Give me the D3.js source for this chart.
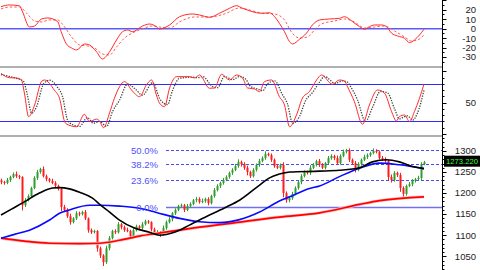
<!DOCTYPE html>
<html><head><meta charset="utf-8">
<script src="https://cdn.jsdelivr.net/npm/d3@7"></script>
<style>html,body{margin:0;padding:0;background:#fff;overflow:hidden}svg{display:block}</style>
</head><body>
<svg id="c" width="480" height="270"></svg>
<script>
// ---------- DATA ----------
const firstOpen = 1230;
const closes = [1226,1224,1231,1238,1245,1240,1238,1171,1183,1193,
1212,1236,1250,1257,1240,1233,1229,1224,1217,1210,
1167,1160,1145,1131,1140,1152,1150,1155,1140,1112,
1107,1110,1069,1052,1036,1069,1093,1110,1107,1126,
1119,1112,1110,1098,1112,1121,1117,1126,1133,1131,
1114,1105,1107,1102,1117,1131,1138,1152,1160,1169,
1171,1160,1169,1174,1183,1186,1179,1181,1186,1176,
1193,1207,1217,1224,1231,1238,1248,1255,1264,1274,
1269,1260,1250,1240,1255,1267,1276,1283,1293,1290,
1279,1264,1260,1267,1200,1183,1188,1198,1212,1226,
1240,1250,1248,1260,1267,1276,1267,1260,1271,1283,
1288,1283,1271,1288,1298,1302,1279,1271,1255,1269,
1279,1286,1290,1295,1300,1298,1283,1281,1276,1238,
1231,1248,1243,1212,1198,1217,1221,1229,1233,1236,
1269,1273.22];
const wickUp = [4,3,5,3,4,6,3,2,5,4, 3,4,5,3,6,4,3,5,4,3, 2,5,4,6,3,5,4,3,5,2, 4,3,2,4,3,6,5,3,4,5,
3,4,6,3,5,4,3,5,4,3, 2,4,5,3,6,4,5,3,4,3, 4,3,5,4,3,5,4,6,3,4, 3,5,4,3,5,4,3,4,5,6,
3,4,5,3,4,3,5,4,6,3, 4,3,5,3,6,4,3,5,4,3, 5,4,3,6,4,3,5,4,3,5, 4,3,6,4,5,3,4,3,5,4,
3,5,4,3,6,4,3,5,4,3, 6,4,3,5,4,3,5,4,3,5, 4,3];
const wickDn = [5,4,3,5,3,4,5,12,4,3, 4,3,5,4,3,5,4,3,5,4, 10,5,4,6,3,4,5,3,4,6, 4,3,8,6,9,4,5,3,4,3,
5,4,3,6,4,3,5,4,3,4, 5,3,4,6,3,4,3,5,4,3, 4,5,3,4,3,5,4,3,4,5, 3,4,3,5,4,3,4,5,3,4,
6,5,8,4,3,4,5,3,4,3, 5,4,3,4,10,6,5,4,3,4, 5,3,4,5,3,4,5,3,4,3, 4,5,3,4,3,4,5,4,6,3,
4,3,5,4,3,4,3,5,4,8, 6,4,5,9,7,4,3,5,4,3, 5,3];

// moving averages: [bar index, price]
const maBlack = [[0,1148],[3.5,1162],[7.8,1179],[12.8,1200],[17.2,1212],[19.5,1213],[22.8,1210],[26.2,1202],[30.5,1188],[32.8,1174],[36.2,1155],[39.5,1136],[44.5,1117],[49.5,1107],[52.8,1100],[57.8,1107],[62.8,1124],[69.5,1148],[75.2,1167],[79.5,1183],[86.2,1219],[89.5,1236],[92.8,1245],[96.2,1250],[106.2,1252],[112.8,1254],[119.5,1260],[123.8,1274],[128.5,1279],[132.8,1274],[137.2,1263],[141,1258]];
const maBlue = [[0,1093],[4.5,1102],[9.5,1112],[16.2,1136],[19.5,1152],[22.8,1160],[29.5,1171],[32.8,1171],[39.5,1169],[46.2,1164],[51.8,1154],[59.5,1140],[66.2,1132],[72.8,1130],[79.5,1137],[86.2,1155],[92.8,1181],[96.2,1191],[102.8,1211],[106.2,1217],[112.8,1239],[119.5,1259],[126.2,1271],[132.8,1267],[141,1258]];
const maRed = [[0,1093],[7.8,1086],[16.2,1081],[26.2,1080],[32.8,1081],[39.5,1088],[46.2,1098],[52.8,1105],[66.2,1119],[79.5,1131],[92.8,1143],[106.2,1153],[119.5,1173],[126.2,1182],[141,1191]];

// Fibonacci retracement
const fibLabels = ["0.0%","23.6%","38.2%","50.0%"];
const fibPrices = [1166,1230,1270,1302];
const fibStart = 55;

// MACD-style oscillator (top panel): [bar index, value]
const oscMain = [[0,23.2],[2.8,25],[6.2,24],[7.2,17.6],[9.5,1.8],[11.2,2.8],[13.5,10.2],[15.5,11.3],[18.8,7.7],[20.2,-4.5],[21.8,-16.1],[23.5,-20.3],[25.2,-22.4],[27.8,-16.1],[29.5,-17.2],[31.8,-24.2],[33.8,-31.9],[36.2,-24.2],[38.5,-11.9],[40.5,-3.2],[42.2,-1.4],[43.8,-3.2],[47.2,2.8],[49.5,4.9],[51.8,2.1],[52.8,-0.3],[56.2,3.9],[59.5,12.6],[63.8,15.5],[66.2,14.4],[69.5,12],[72.8,16.2],[76.2,21.5],[78.5,24.2],[80.5,21.5],[82.8,18.9],[85.2,16.8],[87.2,16.2],[89.5,16.8],[91.2,12.6],[92.8,5.7],[94.5,-3.2],[96.2,-13.7],[97.2,-16.1],[99.5,-11.2],[101.8,-4.8],[103.8,3.9],[106.2,9.2],[109.5,10.2],[112.8,10.9],[114.5,12.6],[117.2,7.4],[119.5,2.1],[121.2,-0.6],[122.8,2.1],[124.5,3.9],[126.8,3.9],[128.5,2.1],[130.2,-4.8],[132.2,-7.7],[134.5,-10.1],[136.2,-14.7],[137.8,-11.9],[139.5,-6.6],[141,-0.6]];
const oscSignal = [[0,20.7],[2.8,22.8],[6.2,22.8],[8.5,16.5],[11.2,8.1],[13.5,7.1],[16.2,9.2],[18.8,9.2],[21.2,1.8],[23.5,-8.7],[26.2,-17.2],[28.8,-18.2],[31.2,-20.3],[33.8,-26.6],[36.2,-27.7],[38.5,-19.3],[41.2,-9.8],[43.8,-4.5],[47.2,-0.3],[50.2,2.8],[52.8,1.8],[56.2,0.7],[59.5,7.1],[64.5,12.3],[69.5,12.3],[74.5,15.5],[79.5,21.8],[82.8,19.7],[86.8,16.5],[91.2,15.5],[94.5,9.2],[96.8,-3.5],[99.5,-9.8],[102.2,-8.7],[104.5,-1.4],[106.8,4.9],[111.2,8.1],[114.5,10.2],[117.8,7.1],[121.2,0.7],[124.5,1.8],[127.8,2.8],[131.2,-2.4],[134.5,-8.7],[136.8,-12.9],[138.8,-11.9],[141,-6.6]];
const oscTicks = [-30,-20,-10,0,10,20];

// Stochastic (middle panel): [bar index, value]
const stochK = [[0,97],[2.8,90],[5.2,89.6],[6.8,86.4],[7.8,65.5],[9.2,27.6],[11.2,46.3],[13.5,84],[14.5,86.4],[17.8,70],[19.5,57],[21.2,19.8],[21.8,15.9],[25.2,11.5],[27.8,31.4],[29.5,19.6],[31.8,23.7],[32.8,20.7],[34.2,9.9],[36.2,33.8],[37.8,57.1],[41.2,83.7],[43.5,70.4],[46.2,59.6],[48.5,78.7],[50.2,86.4],[51.8,62.3],[52.8,49.5],[54.5,43.6],[56.2,73.6],[58.5,91.7],[62.8,91.7],[64.5,89.6],[66.2,94.4],[69.5,73.1],[71.2,73.6],[73.5,95.5],[76.2,86.4],[78.5,94.4],[80.5,89.6],[82.2,73.6],[84.5,72],[86.2,67.6],[87.8,83.7],[90.2,86.4],[92.8,59.6],[94.5,46.3],[96.2,11.5],[98.5,30.3],[100.5,57.5],[102.8,67.6],[105.2,86.4],[106.8,94.4],[110.5,79.5],[112.8,86.4],[114.5,84.8],[115.5,75.6],[117.8,51.6],[120.5,15.4],[122.8,46.3],[125.5,70.4],[127.8,65.5],[130.2,35.6],[131.8,20.7],[132.8,27.6],[134.5,30.3],[136.2,19.6],[137.8,35.6],[139.5,57.1],[141,80]];
const stochD = [[0,95],[2.8,92],[5.2,89],[7.5,84],[8.8,62],[10.2,33],[11.8,43],[14.2,80],[16.2,86],[18.8,75],[20.5,60],[22.2,22],[23.8,15],[26.2,12],[28.8,26],[30.8,17],[32.8,20],[35.2,12],[37.2,36],[39.5,54],[42.2,80],[44.5,73],[47.2,62],[50.5,82],[53.2,54],[55.5,47],[57.2,70],[59.5,89],[63.8,91],[65.5,90],[67.2,92],[70.5,76],[72.2,74],[74.5,92],[77.2,87],[79.5,92],[81.5,88],[83.2,76],[85.5,72],[87.2,69],[88.8,80],[91.2,85],[93.8,63],[95.5,48],[97.2,17],[99.5,28],[101.5,53],[103.8,66],[106.2,83],[107.8,92],[111.5,81],[113.8,85],[115.5,83],[116.5,76],[118.8,55],[121.5,20],[123.8,42],[126.5,68],[128.8,66],[131.2,40],[132.8,24],[134.2,27],[135.5,29],[137.2,22],[138.8,33],[141,70]];
const stochLevels = [20,80];
const stochLabels = [50];

const priceTicks = [1050,1100,1150,1200,1250,1300];

// ---------- DRAW ----------
const svg = d3.select("#c");
const axisX = 442.5;
const x = d3.scaleLinear().domain([0,141]).range([1,424]);
const y1 = d3.scaleLinear().domain([-39.3,30.2]).range([66,0]);
const y2 = d3.scaleLinear().domain([-1.8,105.6]).range([135,68]);
const y3 = d3.scaleLinear().domain([1017.5,1333]).range([270,137]);

const defs = svg.append("defs");
[["c1",0,66],["c2",68,67],["c3",137,133]].forEach(([id,t,h])=>{
  defs.append("clipPath").attr("id",id).append("rect").attr("x",0).attr("y",t).attr("width",442).attr("height",h);
});

// panel separators
svg.append("rect").attr("x",0).attr("y",66).attr("width",442).attr("height",2).attr("fill","#b0b0b0");
svg.append("rect").attr("x",0).attr("y",135).attr("width",442).attr("height",2).attr("fill","#b0b0b0");

// ---- top panel ----
const g1 = svg.append("g").attr("clip-path","url(#c1)");
g1.append("line").attr("x1",0).attr("x2",442).attr("y1",y1(0)).attr("y2",y1(0))
  .attr("stroke","#5a5aff").attr("stroke-width",1.6);
const lineT = (ys)=>d3.line().x(d=>x(d[0])).y(d=>ys(d[1])).curve(d3.curveMonotoneX);
g1.append("path").attr("d",lineT(y1)(oscSignal)).attr("fill","none")
  .attr("stroke","#ff5a5a").attr("stroke-width",1).attr("stroke-dasharray","2.5,2");
g1.append("path").attr("d",lineT(y1)(oscMain)).attr("fill","none")
  .attr("stroke","#ff2a2a").attr("stroke-width",1);

// ---- middle panel ----
const g2 = svg.append("g").attr("clip-path","url(#c2)");
stochLevels.forEach(v=>{
  g2.append("line").attr("x1",0).attr("x2",442).attr("y1",Math.round(y2(v))+0.5).attr("y2",Math.round(y2(v))+0.5)
    .attr("stroke","#2b2bff").attr("stroke-width",1);
});
g2.append("path").attr("d",lineT(y2)(stochD)).attr("fill","none")
  .attr("stroke","#444").attr("stroke-width",1.3).attr("stroke-dasharray","1.3,1.3");
g2.append("path").attr("d",lineT(y2)(stochK)).attr("fill","none")
  .attr("stroke","#ff2a2a").attr("stroke-width",1);

// ---- price panel ----
const g3 = svg.append("g").attr("clip-path","url(#c3)");
fibPrices.forEach((p,k)=>{
  const yy = Math.round(y3(p))+0.5;
  const solid = k===0;
  g3.append("line").attr("x1",x(fibStart)).attr("x2",442).attr("y1",yy).attr("y2",yy)
    .attr("stroke", solid?"#7070f0":"#4a4aff").attr("stroke-width", solid?1.5:1)
    .attr("stroke-dasharray", solid?null:"3,2");
  svg.append("text").attr("x",158).attr("y",yy).attr("dy","0.35em").attr("text-anchor","end")
    .attr("font-family","Liberation Sans, Arial, sans-serif").attr("font-size",9.5)
    .attr("fill","#4f4fff").text(fibLabels[k]);
});

const bars = closes.map((c,i)=>{
  const o = i>0 ? closes[i-1] : firstOpen;
  return {i,o,c,h:Math.max(o,c)+(wickUp[i]||0),l:Math.min(o,c)-(wickDn[i]||0)};
});
const cg = g3.append("g");
bars.forEach(b=>{
  const up = b.c>=b.o;
  const col = up ? "#2f9e2f" : "#ff1c1c";
  const cx = x(b.i);
  cg.append("line").attr("x1",cx+0.5).attr("x2",cx+0.5).attr("y1",y3(b.h)).attr("y2",y3(b.l))
    .attr("stroke",col).attr("stroke-width",1);
  const top = y3(Math.max(b.o,b.c)), bot = y3(Math.min(b.o,b.c));
  cg.append("rect").attr("x",cx-0.5).attr("y",top).attr("width",2).attr("height",Math.max(1,bot-top))
    .attr("fill",col);
});

const maLine = d3.line().x(d=>x(d[0])).y(d=>y3(d[1])).curve(d3.curveMonotoneX);
g3.append("path").attr("d",maLine(maRed)).attr("fill","none").attr("stroke","#ffc0c0").attr("stroke-width",3);
g3.append("path").attr("d",maLine(maRed)).attr("fill","none").attr("stroke","#ff0000").attr("stroke-width",1.7);
g3.append("path").attr("d",maLine(maBlue)).attr("fill","none").attr("stroke","#0a0aff").attr("stroke-width",1.6);
g3.append("path").attr("d",maLine(maBlack)).attr("fill","none").attr("stroke","#000").attr("stroke-width",1.6);

// ---- right axis ----
const ax = svg.append("g");
ax.append("line").attr("x1",axisX).attr("x2",axisX).attr("y1",0).attr("y2",270).attr("stroke","#000");
const tick = (yy,len)=>ax.append("line").attr("x1",axisX).attr("x2",axisX+len)
  .attr("y1",Math.round(yy)+0.5).attr("y2",Math.round(yy)+0.5).attr("stroke","#000");
const label = (yy,t)=>ax.append("text").attr("x",476).attr("y",yy).attr("dy","0.35em")
  .attr("text-anchor","end").attr("font-family","Liberation Sans, Arial, sans-serif")
  .attr("font-size",9.5).attr("fill","#222").text(t);
// top panel ticks
d3.range(-35,31,5).forEach(v=>{ if(y1(v)>=0 && y1(v)<=66) tick(y1(v), v%10===0?4:2); });
oscTicks.forEach(v=>label(y1(v), String(v)));
// middle panel ticks
d3.range(0,101,10).forEach(v=>tick(y2(v), (v%50===0)?4:2));
stochLabels.forEach(v=>label(y2(v), String(v)));
// price ticks
d3.range(1020,1331,10).forEach(v=>tick(y3(v), v%50===0?4:2));
priceTicks.forEach(v=>label(y3(v), String(v)));

// last price tag
const last = closes[closes.length-1];
const ly = y3(last)-1;
svg.append("rect").attr("x",444).attr("y",ly-5.5).attr("width",36).attr("height",11).attr("fill","#000");
svg.append("text").attr("x",446).attr("y",ly).attr("dy","0.35em")
  .attr("font-family","Liberation Sans, Arial, sans-serif").attr("font-size",8)
  .attr("textLength",32).attr("lengthAdjust","spacingAndGlyphs")
  .attr("fill","#3cff3c").text(last.toFixed(3));
</script>
</body></html>
